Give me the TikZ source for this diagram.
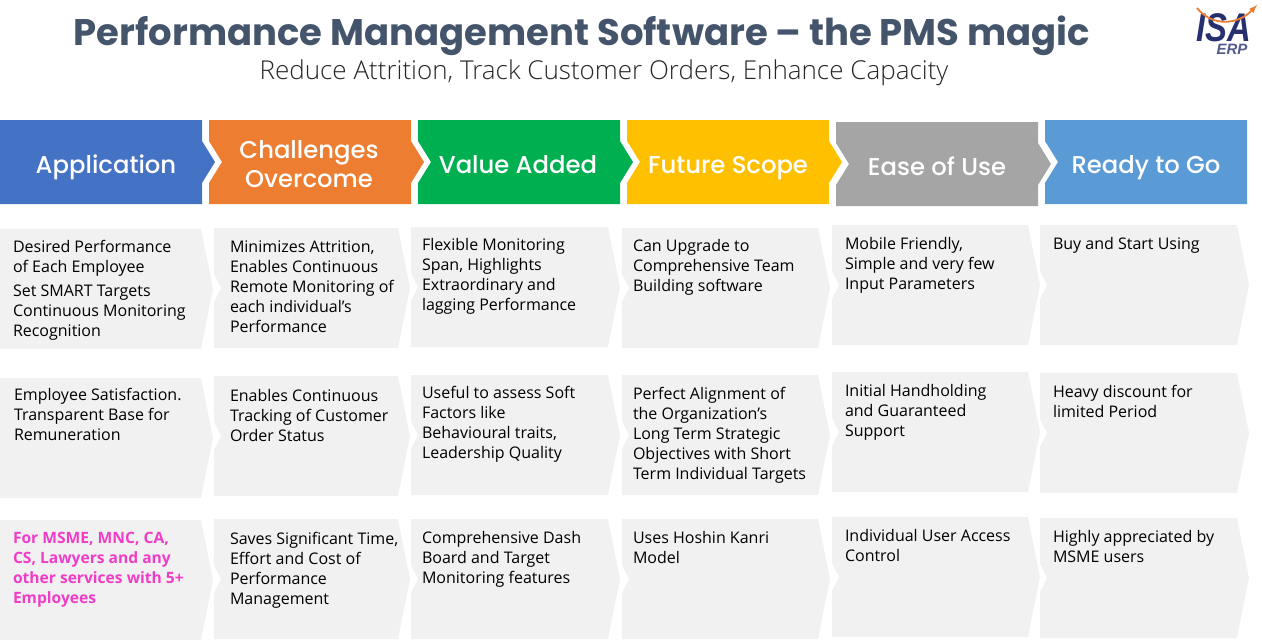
\documentclass[tikz,border=0pt]{standalone}
\usepackage{fontspec}
\usepackage{tikz}
\setmainfont{Open Sans}
\newfontfamily\subfont{Open Sans Light}
\newfontfamily\popfont{Poppins Medium}
\newfontfamily\titlefont{Poppins}
\newfontfamily\logofont{Liberation Sans}
\definecolor{titlecol}{HTML}{44546A}
\definecolor{hblue}{HTML}{4472C4}
\definecolor{horange}{HTML}{ED7D31}
\definecolor{hgreen}{HTML}{00B050}
\definecolor{hyellow}{HTML}{FFC000}
\definecolor{hgray}{HTML}{A5A5A5}
\definecolor{hsky}{HTML}{5B9BD5}
\definecolor{cellgray}{HTML}{F1F1F1}
\definecolor{pinktext}{HTML}{F03CC8}
\definecolor{logonavy}{HTML}{27306F}
% header arrow: left, top, colour
\newcommand{\headbox}[3]{
    \fill[#3] (#1,#2) -- ++(202,0) -- ++(0,21) -- ++(13,21) -- ++(-13,21) -- ++(0,21) -- ++(-202,0) -- ++(0,-21) -- ++(13,-21) -- ++(-13,-21) -- cycle;
}
% grey arrow: left, top, width, notch depth
\newcommand{\cellbox}[4]{
    \fill[cellgray] (#1,#2) -- ++(#3,0) -- ++(12,60) -- ++(-12,60) -- ++(-#3,0) -- ++(0,-46) -- ++(#4,-14) -- ++(-#4,-14) -- cycle;
}
\begin{document}
\begin{tikzpicture}[x=1pt, y=-1pt, every node/.style={inner sep=0pt, outer sep=0pt},
    headtext/.style = {font=\popfont\fontsize{24.3}{29}\selectfont, text=white, align=center},
    celltext/.style = {font=\fontsize{16}{20}\selectfont, anchor=north west, align=left, text=black, yshift=-4pt}]
    \useasboundingbox (0,0) rectangle (1262,642);

    \node[font=\titlefont\bfseries\fontsize{37}{40}\selectfont, text=titlecol] (title) at (582,36) {Performance Management Software – the PMS magic};
    \node[font=\subfont\fontsize{26}{30}\selectfont, text=black!85] (subtitle) at (604,73) {Reduce Attrition, Track Customer Orders, Enhance Capacity};

    % logo
    \node[font=\logofont\bfseries\itshape\fontsize{40}{40}\selectfont, text=logonavy, xscale=0.82, anchor=base] (isa) at (1224,42) {ISA};
    \node[font=\logofont\bfseries\itshape\fontsize{15}{15}\selectfont, text=logonavy!80, anchor=north] (erp) at (1232,44) {ERP};
    \coordinate (swoopa) at (1197,8);
    \coordinate (swoopb) at (1257,5);
    \draw[horange, line width=1.8pt, -latex] (swoopa) .. controls (1212,27) and (1238,25) .. (swoopb);

    % header row
    \fill[hblue] (0,120) -- (202,120) -- (202,141) -- (215,162) -- (202,183) -- (202,204) -- (0,204) -- cycle;
    \headbox{209}{120}{horange}
    \headbox{418}{120}{hgreen}
    \headbox{627}{120}{hyellow}
    \headbox{836}{122}{hgray}
    \fill[hsky] (1045,120) -- (1247,120) -- (1247,204) -- (1045,204) -- (1045,183) -- (1058,162) -- (1045,141) -- cycle;

    \node[headtext, anchor=base] (app) at (106,173) {Application};
    \node[headtext] (chal) at (309,164) {Challenges\\Overcome};
    \node[headtext, anchor=base] (val) at (518,173) {Value Added};
    \node[headtext, anchor=base] (fut) at (728,173) {Future Scope};
    \node[headtext, anchor=base] (ease) at (937,175) {Ease of Use};
    \node[headtext, anchor=base] (ready) at (1146,173) {Ready to Go};

    % the grey boxes, column by column
    \foreach \x/\w/\n/\ya/\yb/\yc in {0/201/0/229/378/520, 214/184/7/228/376/519, 411/197/7/227/375/519, 622/196/7/228/375/519, 832/196/7/225/372/517, 1040/197/7/225/373/518} {
        \cellbox{\x}{\ya}{\w}{\n}
        \cellbox{\x}{\yb}{\w}{\n}
        \cellbox{\x}{\yc}{\w}{\n}
    }

    % row 1
    \node[celltext] (a1) at (13,236) {Desired Performance\\of Each Employee};
    \node[celltext] (a1b) at (13,281) {Set SMART Targets\\Continuous Monitoring\\Recognition};
    \node[celltext] (b1) at (230,237) {Minimizes Attrition,\\Enables Continuous\\Remote Monitoring of\\each individual’s\\Performance};
    \node[celltext] (c1) at (422,234) {Flexible Monitoring\\Span, Highlights\\Extraordinary and\\lagging Performance};
    \node[celltext] (d1) at (633,235) {Can Upgrade to\\Comprehensive Team\\Building software};
    \node[celltext] (e1) at (845,233) {Mobile Friendly,\\Simple and very few\\Input Parameters};
    \node[celltext] (f1) at (1053,233) {Buy and Start Using};

    % row 2
    \node[celltext] (a2) at (14,384) {Employee Satisfaction.\\Transparent Base for\\Remuneration};
    \node[celltext] (b2) at (230,385) {Enables Continuous\\Tracking of Customer\\Order Status};
    \node[celltext] (c2) at (422,382) {Useful to assess Soft\\Factors like\\Behavioural traits,\\Leadership Quality};
    \node[celltext] (d2) at (633,383) {Perfect Alignment of\\the Organization’s\\Long Term Strategic\\Objectives with Short\\Term Individual Targets};
    \node[celltext] (e2) at (845,380) {Initial Handholding\\and Guaranteed\\Support};
    \node[celltext] (f2) at (1053,381) {Heavy discount for\\limited Period};

    % row 3
    \node[celltext, font=\bfseries\fontsize{15.6}{20}\selectfont, text=pinktext] (a3) at (13,528) {For MSME, MNC, CA,\\CS, Lawyers and any\\other services with 5+\\Employees};
    \node[celltext] (b3) at (230,528) {Saves Significant Time,\\Effort and Cost of\\Performance\\Management};
    \node[celltext] (c3) at (422,527) {Comprehensive  Dash\\Board and Target\\Monitoring features};
    \node[celltext] (d3) at (633,527) {Uses Hoshin Kanri\\Model};
    \node[celltext] (e3) at (845,525) {Individual User Access\\Control};
    \node[celltext] (f3) at (1053,526) {Highly appreciated by\\MSME users};
\end{tikzpicture}
\end{document}
